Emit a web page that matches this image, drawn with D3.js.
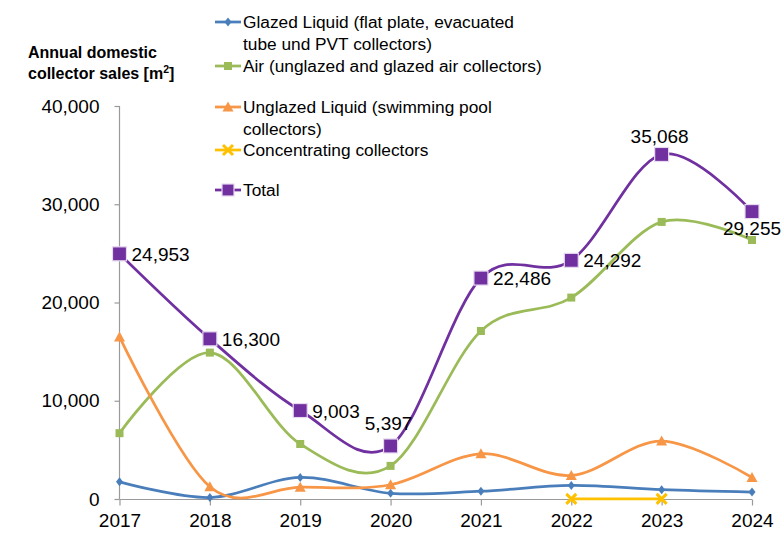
<!DOCTYPE html>
<html><head><meta charset="utf-8">
<script src="https://cdn.jsdelivr.net/npm/d3@7"></script>
<style>body{margin:0;background:#fff}svg{display:block}</style>
</head><body>
<svg id="c" width="782" height="552"></svg>
<script>
const years = ["2017","2018","2019","2020","2021","2022","2023","2024"];
const glazed = [1750, 150, 2200, 580, 790, 1380, 950, 710];
const air = [6700, 14900, 5600, 3370, 17100, 20500, 28200, 26360];
const unglazed = [16500, 1250, 1200, 1450, 4600, 2400, 5900, 2190];
const concentrating = [null, null, null, null, null, 12, 18, null];
const total = [24953, 16300, 9003, 5397, 22486, 24292, 35068, 29255];
const yTicks = [0, 10000, 20000, 30000, 40000];
const labelPos = ["right","right","right","above","right","right","above","below"];
const seriesNames = ["Glazed Liquid (flat plate, evacuated|tube und PVT collectors)",
  "Air (unglazed and glazed air collectors)",
  "Unglazed Liquid (swimming pool|collectors)",
  "Concentrating collectors",
  "Total"];

const svg = d3.select("#c");
const F = "'Liberation Sans', Arial, sans-serif";
const x = d3.scalePoint().domain(years).range([119.5, 752]);
const y = d3.scaleLinear().domain([0, 40000]).range([499, 106]);

// axes
const yAx = svg.append("g").attr("transform","translate(119.5,0)")
  .call(d3.axisLeft(y).tickValues(yTicks).tickFormat(d3.format(",")).tickSize(5).tickPadding(15));
const xAx = svg.append("g").attr("transform","translate(0,499.5)")
  .call(d3.axisBottom(x).tickSize(6).tickPadding(8));
[yAx, xAx].forEach(a=>{
  a.selectAll("path,line").attr("stroke","#9a9a9a").attr("stroke-width",1.2);
  a.selectAll("text").attr("font-family",F).attr("font-size",19).attr("fill","#000");
});
xAx.select(".domain").attr("d","M119.5,0H752");
yAx.select(".domain").attr("d","M0,106V499");

// title
svg.append("text").attr("x",28).attr("y",58).attr("font-family",F).attr("font-weight","bold")
  .attr("font-size",16).text("Annual domestic");
svg.append("text").attr("x",28).attr("y",79).attr("font-family",F).attr("font-weight","bold")
  .attr("font-size",16).text("collector sales [m").append("tspan").attr("font-size",10.5).attr("dy",-6).text("2")
  .select(function(){return this.parentNode;}).append("tspan").attr("dy",6).text("]");

const series = [
  {vals: glazed, color:"#4a7ebb", marker:"diamond", size:7},
  {vals: air, color:"#9bbb59", marker:"square", size:8},
  {vals: unglazed, color:"#f79646", marker:"triangle", size:9},
  {vals: concentrating, color:"#ffc000", marker:"x", size:10},
  {vals: total, color:"#7030a0", marker:"bigsquare", size:14}
];

function drawMarker(g, type, cx, cy, s, color){
  if(type==="diamond"){
    g.append("path").attr("d",`M${cx},${cy-s/2-1}L${cx+s/2},${cy}L${cx},${cy+s/2+1}L${cx-s/2},${cy}Z`).attr("fill",color);
  } else if(type==="square"){
    g.append("rect").attr("x",cx-s/2).attr("y",cy-s/2).attr("width",s).attr("height",s).attr("fill",color);
  } else if(type==="bigsquare"){
    g.append("rect").attr("x",cx-s/2).attr("y",cy-s/2).attr("width",s).attr("height",s).attr("fill",color)
      .attr("stroke","#e6d9f0").attr("stroke-width",1.2);
  } else if(type==="triangle"){
    g.append("path").attr("d",`M${cx},${cy-s/2-1}L${cx+s/2+1},${cy+s/2}L${cx-s/2-1},${cy+s/2}Z`).attr("fill",color);
  } else if(type==="x"){
    const h=s/2;
    g.append("path").attr("d",`M${cx-h},${cy-h}L${cx+h},${cy+h}M${cx+h},${cy-h}L${cx-h},${cy+h}`)
      .attr("stroke",color).attr("stroke-width",3);
  }
}

const line = d3.line().defined(d=>d.v!=null).x(d=>x(d.k)).y(d=>y(d.v)).curve(d3.curveCardinal.tension(0));
series.forEach(s=>{
  const data = years.map((k,i)=>({k, v:s.vals[i]}));
  const g = svg.append("g");
  g.append("path").datum(data).attr("d",line).attr("fill","none").attr("stroke",s.color)
    .attr("stroke-width",2.75).attr("stroke-linejoin","round");
  data.filter(d=>d.v!=null).forEach(d=>drawMarker(g, s.marker, x(d.k), y(d.v), s.size, s.color));
});

// data labels for total
const fmt = d3.format(",");
total.forEach((v,i)=>{
  const cx = x(years[i]), cy = y(v);
  const t = svg.append("text").attr("font-family",F).attr("font-size",19).attr("fill","#000").text(fmt(v));
  if(labelPos[i]==="right"){ t.attr("x",cx+12).attr("y",cy+7); }
  else if(labelPos[i]==="above"){ t.attr("x",cx-2).attr("y",cy-(i===3?16:11)).attr("text-anchor","middle"); }
  else { t.attr("x",cx).attr("y",cy+23).attr("text-anchor","middle"); }
});

// legend
const legY = [22, 66, 107, 150, 190];
series.forEach((s,i)=>{
  const ly = legY[i];
  const g = svg.append("g");
  g.append("line").attr("x1",215).attr("x2",241).attr("y1",ly).attr("y2",ly).attr("stroke",s.color).attr("stroke-width",2.75);
  drawMarker(g, s.marker, 228, ly, s.marker==="bigsquare"?12:s.size, s.color);
  const lines = seriesNames[i].split("|");
  lines.forEach((tx,j)=>{
    g.append("text").attr("x",243).attr("y",ly+6+j*22).attr("font-family",F).attr("font-size",17.3).text(tx);
  });
});
</script>
</body></html>
